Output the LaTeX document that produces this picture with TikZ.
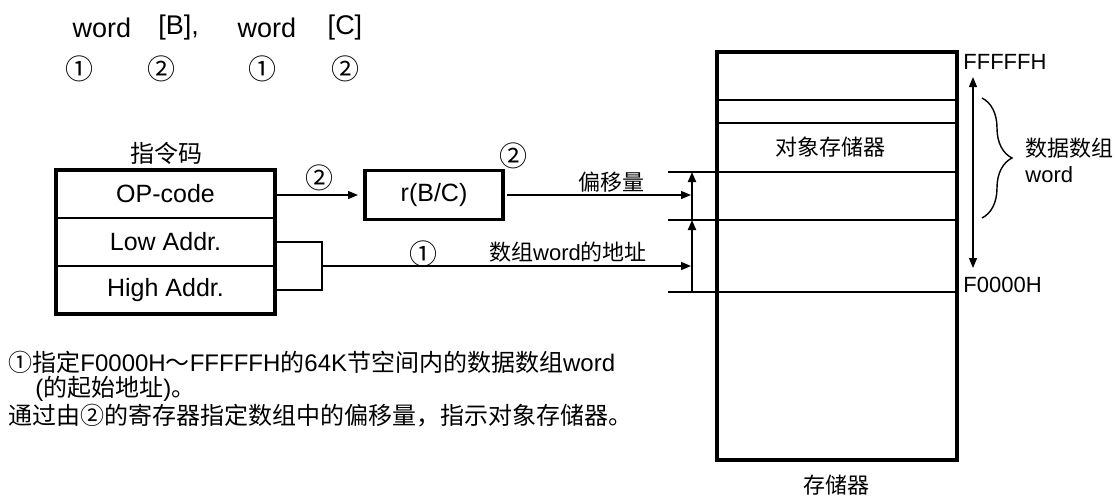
\documentclass[tikz,border=0pt]{standalone}
\usepackage{fontspec}
\setmainfont{Liberation Sans}
\newfontfamily\cjk{Noto Sans CJK SC}
\usetikzlibrary{arrows.meta, positioning, decorations.pathreplacing}

\tikzset{
  arr/.style={-{Triangle[length=5pt,width=4pt]}, line width=0.6pt},
  rowbox/.style={draw, line width=1pt, outer sep=0pt, inner sep=0pt,
    minimum width=109.5pt, minimum height=24pt, font=\fontsize{12.5}{14}\selectfont},
  regbox/.style={draw, line width=1.6pt, outer sep=0pt, inner sep=0pt,
    minimum width=69pt, minimum height=24.5pt, font=\fontsize{12.5}{14}\selectfont},
  membox/.style={draw, line width=1.8pt, outer sep=0pt, inner sep=0pt,
    minimum width=120pt, minimum height=204pt},
  memline/.style={line width=1pt},
  lbl/.style={inner sep=0pt, font=\fontsize{11}{13}\selectfont},
  zh/.style={inner sep=0pt, font=\cjk\fontsize{11}{13}\selectfont},
  num/.style={inner sep=0pt, font=\cjk\fontsize{14}{16}\selectfont},
  note/.style={inner sep=0pt, anchor=west, font=\fontsize{12}{14}\selectfont},
  big/.style={inner sep=0pt, font=\fontsize{13.5}{16}\selectfont}
}

\begin{document}
\begin{tikzpicture}[x=0.5pt, y=-0.5pt]
    \useasboundingbox (0,0) rectangle (1116,495);

    % === instruction line ===
    \node[big] (w1) at (102,28) {word};
    \node[big, anchor=west] (b1) at (158,28) {[B],};
    \node[big] (w2) at (267,28) {word};
    \node[big] (c1) at (345,28) {[C]};
    \node[num] (n1) at (79,69) {①};
    \node[num] (n2) at (162,69) {②};
    \node[num] (n3) at (262,69) {①};
    \node[num] (n4) at (345,69) {②};

    % === instruction code ===
    \node[zh, font=\cjk\fontsize{12}{14}\selectfont] (code) at (166,153) {指令码};
    \node[rowbox] (op) at (165.5,194) {OP-code};
    \node[rowbox, below=0pt of op] (low) {Low Addr.};
    \node[rowbox, below=0pt of low] (high) {High Addr.};
    \draw[line width=1.6pt] (op.north west) rectangle (high.south east);

    % === register ===
    \node[regbox] (reg) at (434,195) {r(B/C)};
    \draw[arr, shorten >=3.5pt] (op.east |- reg.west) -- (reg.west);
    \node[num] (n5) at (319,178) {②};
    \node[num] (n6) at (513,156) {②};

    % === memory ===
    \node[membox] (mem) at (837,256) {};
    \foreach \y in {100,123}
        \draw[memline] (mem.west |- 0,\y) -- (mem.east |- 0,\y);
    \foreach \y in {172,220,292}
        \draw[memline] (668,\y) -- (mem.east |- 0,\y);
    \node[zh] (obj) at (830,147) {对象存储器};
    \node[zh] (memname) at (836,485) {存储器};

    % offset and base arrows
    \coordinate (b0) at (692,292);
    \coordinate (b1) at (692,220);
    \coordinate (b2) at (692,172);
    \draw[arr, line width=0.9pt] (b0) -- (b1);
    \draw[arr, line width=0.9pt] (b1) -- (b2);

    \coordinate (offtip) at (691,195);
    \draw[arr, shorten <=2pt] (reg.east) -- (offtip);
    \node[zh] (offs) at (611,182) {偏移量};

    \coordinate (join) at (322,266);
    \coordinate (addrtip) at (691,266);
    \draw[line width=1pt] (low.east) -| (join) |- (high.east);
    \draw[arr] (join) -- (addrtip);
    \node[num] (n7) at (423,254) {①};
    \node[lbl] (addr) at (568,252) {{\cjk 数组}word{\cjk 的地址}};

    % === address range ===
    \coordinate (hi) at (973,77);
    \coordinate (lo) at (973,268);
    \draw[{Triangle[length=5pt,width=4pt]}-{Triangle[length=5pt,width=4pt]}, line width=0.6pt] (hi) -- (lo);
    \node[lbl, anchor=west] (ffh) at (963,62) {FFFFFH};
    \node[lbl, anchor=west] (f0h) at (963,285) {F0000H};
    \draw[decorate, decoration={brace, amplitude=15pt}, line width=0.7pt] (982,98) -- (982,218);
    \node[zh, anchor=west] (arr1) at (1025,148) {数据数组};
    \node[lbl, anchor=west] (arr2) at (1025,175) {word};

    % === notes ===
    \node[note] (note1) at (8,362)
        {{\cjk ①指定}F0000H{\cjk ～}FFFFFH{\cjk 的}64K{\cjk 节空间内的数据数组}word};
    \node[note] (note2) at (35,389)
        {({\cjk 的起始地址}){\cjk 。}};
    \node[note, font=\cjk\fontsize{12}{14}\selectfont] (note3) at (8,416)
        {通过由②的寄存器指定数组中的偏移量，指示对象存储器。};

\end{tikzpicture}
\end{document}
